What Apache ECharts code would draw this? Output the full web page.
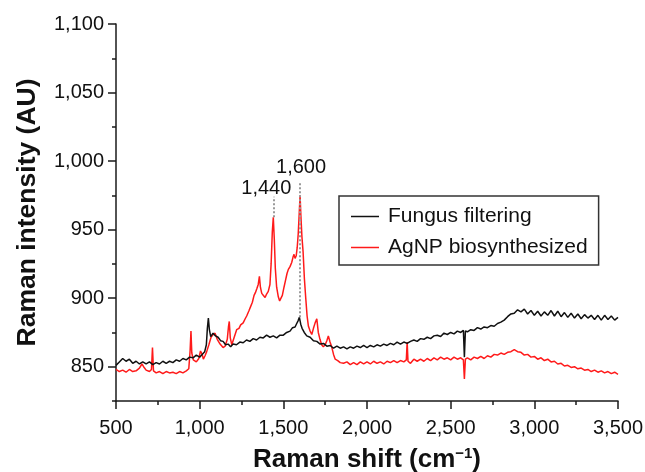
<!DOCTYPE html>
<html>
<head>
<meta charset="utf-8">
<script src="https://cdn.jsdelivr.net/npm/echarts@6/dist/echarts.min.js"></script>
<style>
html,body{margin:0;padding:0;background:#fff;}
#chart{width:645px;height:472px;}
</style>
</head>
<body>
<div id="chart"></div>
<script>
// ---- Data ----
const seriesNames = ['Fungus filtering', 'AgNP biosynthesized'];

const blackShift = [500,520,540,560,580,600,620,640,660,680,700,720,740,760,780,800,820,840,860,880,900,920,940,960,980,1000,
1015,1030,1040,1046,1052,1058,1066,1080,1095,1110,1125,1140,1155,1170,1185,1200,1220,1240,1260,1280,1300,1320,1340,1360,1380,1400,
1420,1440,1460,1480,1500,1520,1540,1555,1570,1580,1588,1596,1604,1612,1625,1640,1660,1680,1700,1720,1740,1760,1780,1800,1820,1840,
1860,1880,1900,1920,1940,1960,1980,2000,2020,2040,2060,2080,2100,2120,2140,2160,2180,2200,2220,2240,2260,2280,2300,2320,2340,2360,
2380,2400,2420,2440,2460,2480,2500,2520,2540,2560,2576,2582,2588,2600,2620,2640,2660,2680,2700,2720,2740,2760,2780,2800,2820,2840,
2860,2880,2900,2920,2940,2960,2980,3000,3020,3040,3060,3080,3100,3120,3140,3160,3180,3200,3220,3240,3260,3280,3300,3320,3340,3360,
3380,3400,3420,3440,3460,3480,3500];
const blackIntensity = [851.0,853.5,856.0,854.0,855.5,852.5,854.0,852.0,853.5,852.0,853.5,851.5,853.0,852.0,854.0,852.5,854.0,853.0,855.0,854.0,856.0,855.0,857.0,856.5,858.5,857.0,
859.0,861.0,866.0,878.0,885.5,877.0,872.0,874.5,872.5,871.5,869.0,868.5,866.0,866.5,864.5,866.5,866.0,868.0,867.5,869.5,868.5,870.5,869.5,871.5,871.0,873.0,
871.5,872.5,871.0,873.0,873.0,875.0,876.0,878.5,879.0,881.5,883.5,886.0,881.0,878.0,875.0,872.5,871.5,869.0,868.5,866.5,867.0,865.0,865.5,863.5,865.0,863.5,
864.5,863.0,864.5,863.5,865.0,864.0,865.5,864.0,865.5,864.5,866.0,865.0,866.5,865.5,867.0,866.0,868.0,866.5,868.0,867.0,868.5,869.5,868.5,870.5,870.0,871.5,
870.5,872.5,873.0,872.0,874.5,873.5,875.0,874.0,876.0,875.0,876.5,857.0,876.0,875.5,877.0,876.5,878.5,877.5,879.0,878.5,880.0,879.5,881.5,882.5,884.0,886.5,
888.5,889.0,891.5,890.0,892.0,888.5,891.0,887.5,890.5,887.0,890.0,887.5,891.0,887.0,890.5,886.5,889.5,886.0,889.0,885.5,888.5,885.0,888.0,885.5,887.5,884.5,
887.5,884.0,887.5,884.5,887.0,884.0,886.0];

const redShift = [500,520,540,560,580,600,620,640,655,665,680,700,712,718,724,740,760,780,800,820,840,860,880,900,920,935,943,948,953,962,980,995,
1005,1015,1022,1032,1042,1055,1068,1080,1092,1105,1122,1140,1152,1165,1172,1177,1183,1192,1205,1221,1235,1245,1260,1272,1281,1295,1305,1315,1325,1333,
1342,1350,1357,1363,1371,1381,1391,1400,1410,1420,1427,1434,1440,1446,1452,1460,1470,1478,1486,1494,1504,1513,1522,1530,1540,1550,1558,1564,1570,1577,
1583,1589,1595,1600,1605,1611,1618,1626,1634,1642,1650,1660,1670,1680,1690,1700,1709,1719,1729,1739,1750,1760,1769,1779,1789,1800,1810,1825,1840,1860,
1880,1900,1920,1940,1960,1980,2000,2020,2040,2060,2080,2100,2120,2140,2160,2180,2200,2220,2235,2240,2245,2260,2280,2300,2320,2340,2360,2380,2400,2420,
2440,2460,2480,2500,2520,2540,2560,2576,2582,2588,2600,2620,2640,2660,2680,2700,2720,2740,2760,2780,2800,2820,2840,2860,2880,2900,2920,2940,2960,2980,
3000,3020,3040,3060,3080,3100,3120,3140,3160,3180,3200,3220,3240,3260,3280,3300,3320,3340,3360,3380,3400,3420,3440,3460,3480,3500];
const redIntensity = [848.0,846.5,847.5,846.0,848.0,846.5,847.0,849.0,852.0,850.0,847.5,846.5,848.0,864.0,847.0,845.5,846.5,845.0,846.5,845.5,846.0,845.0,846.5,845.5,847.0,848.5,862.0,876.0,860.0,855.0,853.5,856.0,
861.5,859.0,855.5,858.0,861.0,866.0,871.5,873.5,874.5,870.0,866.5,864.0,865.0,870.0,879.0,883.0,871.0,866.0,871.0,877.0,878.0,880.5,882.0,885.0,887.0,891.0,894.0,897.0,902.0,904.0,
907.0,910.0,916.0,908.0,903.5,902.0,900.5,903.0,905.0,910.0,925.0,948.0,959.0,943.0,922.0,908.0,901.0,898.0,897.5,902.0,908.0,913.0,918.0,921.0,923.0,926.0,930.0,932.0,929.0,931.0,
937.0,947.0,962.0,975.0,960.0,945.0,934.0,914.0,900.0,887.0,879.5,876.0,873.5,878.0,882.0,885.0,875.0,870.0,866.0,864.5,866.0,869.0,872.5,868.0,864.5,859.0,855.5,854.5,853.0,852.5,
853.5,851.5,853.0,851.5,853.5,852.0,853.5,852.0,854.0,852.5,853.5,852.0,854.0,853.0,854.5,853.0,854.5,853.5,855.0,868.0,854.0,852.5,855.5,854.0,855.5,854.0,856.0,854.5,856.5,855.0,
857.0,855.5,856.5,855.0,857.0,855.5,856.5,855.0,841.0,855.5,856.5,855.0,857.0,856.0,857.5,856.0,858.0,857.0,859.0,858.5,860.0,859.0,860.5,861.0,862.5,861.0,860.5,858.5,859.0,857.0,
857.5,855.5,856.5,854.5,855.5,853.5,854.0,852.0,852.5,850.5,851.0,849.5,850.0,848.5,849.0,847.5,848.0,846.5,847.5,846.0,847.0,845.5,846.5,845.0,846.0,844.5];

// peak annotations: guide from bottom to top value at each labelled shift
const peakShift = [1440, 1600];
const peakLabel = ['1,440', '1,600'];
const guideBottom = [959, 886];
const guideTop = [974, 985];

const yMajorTicks = [850, 900, 950, 1000, 1050, 1100];

// ---- Chart ----
const FONT = "'Liberation Sans', Arial, Helvetica, sans-serif";
const fmt = v => String(v).replace(/\B(?=(\d{3})+(?!\d))/g, ',');
const pair = (xs, ys) => xs.map((x, i) => [x, ys[i]]);

const chart = echarts.init(document.getElementById('chart'), null, {renderer: 'canvas'});

const axisColor = '#1a1a1a';

chart.setOption({
  animation: false,
  backgroundColor: '#fff',
  textStyle: {fontFamily: FONT},
  grid: {left: 116, right: 27, top: 24, bottom: 71, containLabel: false, outerBoundsMode: 'none'},
  legend: {
    data: seriesNames.map(n => ({name: n, icon: 'rect'})),
    orient: 'vertical',
    left: 339, top: 196,
    padding: [10, 11, 7, 12],
    itemGap: 10,
    itemWidth: 28,
    itemHeight: 1.5,
    borderColor: '#333',
    borderWidth: 1.5,
    textStyle: {fontFamily: FONT, fontSize: 21, color: '#111', padding: [0, 0, 0, 4]},
    selectedMode: false
  },
  xAxis: {
    type: 'value',
    min: 500, max: 3500, interval: 500,
    name: 'Raman shift (cm{sup|−1})',
    nameLocation: 'middle',
    nameGap: 45,
    nameTextStyle: {
      fontFamily: FONT, fontSize: 26, fontWeight: 'bold', color: '#111',
      rich: {sup: {fontFamily: FONT, fontSize: 15, fontWeight: 'bold', color: '#111', padding: [0, 0, 13, 0]}}
    },
    axisLine: {show: true, onZero: false, lineStyle: {color: axisColor, width: 1.5}},
    axisTick: {show: true, length: 8, lineStyle: {color: axisColor, width: 1.5}},
    minorTick: {show: true, splitNumber: 2, length: 4, lineStyle: {color: axisColor, width: 1.5}},
    splitLine: {show: false},
    axisLabel: {fontFamily: FONT, fontSize: 20, color: '#111', margin: 17, formatter: fmt, showMinLabel: true, showMaxLabel: true}
  },
  yAxis: [{
    type: 'value',
    min: 825, max: 1100, interval: 25,
    name: 'Raman intensity (AU)',
    nameLocation: 'middle',
    nameGap: 75,
    nameTextStyle: {fontFamily: FONT, fontSize: 26.5, fontWeight: 'bold', color: '#111'},
    axisLine: {show: true, onZero: false, lineStyle: {color: axisColor, width: 1.5}},
    axisTick: {show: true, length: 4, lineStyle: {color: axisColor, width: 1.5}},
    splitLine: {show: false},
    axisLabel: {fontFamily: FONT, fontSize: 20, color: '#111', margin: 12,
      formatter: v => (v % 50 === 0 ? fmt(v) : '')}
  }, {
    type: 'value',
    position: 'left',
    min: 825, max: 1100, interval: 25,
    axisLine: {show: false},
    axisTick: {show: true, length: 8, customValues: yMajorTicks, lineStyle: {color: axisColor, width: 1.5}},
    axisLabel: {show: false},
    splitLine: {show: false}
  }],
  series: [{
    name: seriesNames[0],
    type: 'line',
    symbol: 'none',
    showSymbol: false,
    data: pair(blackShift, blackIntensity),
    lineStyle: {color: '#111', width: 1.5},
    itemStyle: {color: '#111'},
    z: 3
  }, {
    name: seriesNames[1],
    type: 'line',
    symbol: 'none',
    showSymbol: false,
    data: pair(redShift, redIntensity),
    lineStyle: {color: '#ff1a1a', width: 1.5},
    itemStyle: {color: '#ff1a1a'},
    z: 2,
    markLine: {
      silent: true,
      symbol: ['none', 'none'],
      label: {show: false},
      lineStyle: {type: 'dotted', color: '#9a9a9a', width: 2},
      data: peakShift.map((s, i) => [{coord: [s, guideBottom[i]]}, {coord: [s, guideTop[i]]}])
    }
  }]
});

// peak labels placed from data coordinates via the chart's own scales
const labelShiftPx = [[-7, -8], [1, -14]];
chart.setOption({
  graphic: peakShift.map((s, i) => {
    const p = chart.convertToPixel({gridIndex: 0}, [s, guideTop[i]]);
    return {
      type: 'text',
      x: p[0] + labelShiftPx[i][0],
      y: p[1] + labelShiftPx[i][1],
      z: 10,
      silent: true,
      style: {
        text: peakLabel[i],
        fontFamily: FONT, fontSize: 20, fill: '#111',
        align: 'center', verticalAlign: 'middle'
      }
    };
  })
});
</script>
</body>
</html>
